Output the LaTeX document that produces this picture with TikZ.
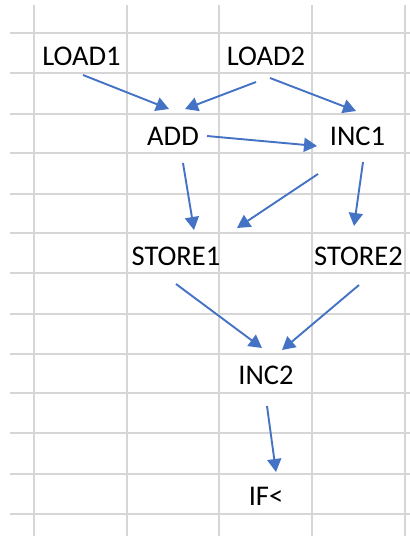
\documentclass[tikz,border=0pt]{standalone}
\usepackage{fontspec}
\setmainfont{Carlito}
\usetikzlibrary{arrows.meta}
\definecolor{gridgray}{HTML}{D6D6D6}
\definecolor{xlblue}{HTML}{4472C4}
\tikzset{
  cell/.style={inner sep=0pt, anchor=base, font=\fontsize{28.5}{32}\selectfont, text=black},
  flow/.style={draw=xlblue, line width=1.9pt, -{Triangle[length=13pt,width=14pt]}},
  gridline/.style={draw=gridgray, line width=1.4pt}
}
\begin{document}
\begin{tikzpicture}[x=1pt,y=-1pt]
\useasboundingbox (0,0) rectangle (410,536);
\fill[white] (0,0) rectangle (410,536);
% grid
\foreach \yy in {33,73,114,153,194,233,273,314,354,393,433,474,514}
  \draw[gridline] (10,\yy) -- (410,\yy);
\foreach \xx in {34,127,219,312,405}
  \draw[gridline] (\xx,5) -- (\xx,536);
% nodes
\node[cell] (load1) at (81.5,65) {LOAD1};
\node[cell] (load2) at (266,65) {LOAD2};
\node[cell] (add) at (173,145) {ADD};
\node[cell] (inc1) at (357.5,145) {INC1};
\node[cell] (store1) at (176,265) {STORE1};
\node[cell] (store2) at (358.5,265) {STORE2};
\node[cell] (inc2) at (266,384) {INC2};
\node[cell] (iflt) at (266,505) {IF<};
% connector end points
\coordinate (l1a) at (83,75);   \coordinate (adda) at (169,109);
\coordinate (l2a) at (256,82);  \coordinate (addb) at (185,109);
\coordinate (l2b) at (270,78);  \coordinate (inc1a) at (356,111);
\coordinate (addc) at (207,136); \coordinate (inc1b) at (317,146);
\coordinate (addd) at (183,163); \coordinate (st1a) at (194,230);
\coordinate (inc1c) at (318,174); \coordinate (st1b) at (237,228);
\coordinate (inc1d) at (363,162); \coordinate (st2a) at (354,226);
\coordinate (st1c) at (176,284); \coordinate (inc2a) at (262,348);
\coordinate (st2c) at (359,285); \coordinate (inc2b) at (282,350);
\coordinate (inc2c) at (267,406); \coordinate (ifa) at (276,472);
% connectors
\draw[flow] (l1a) -- (adda);
\draw[flow] (l2a) -- (addb);
\draw[flow] (l2b) -- (inc1a);
\draw[flow] (addc) -- (inc1b);
\draw[flow] (addd) -- (st1a);
\draw[flow] (inc1c) -- (st1b);
\draw[flow] (inc1d) -- (st2a);
\draw[flow] (st1c) -- (inc2a);
\draw[flow] (st2c) -- (inc2b);
\draw[flow] (inc2c) -- (ifa);
\end{tikzpicture}
\end{document}
